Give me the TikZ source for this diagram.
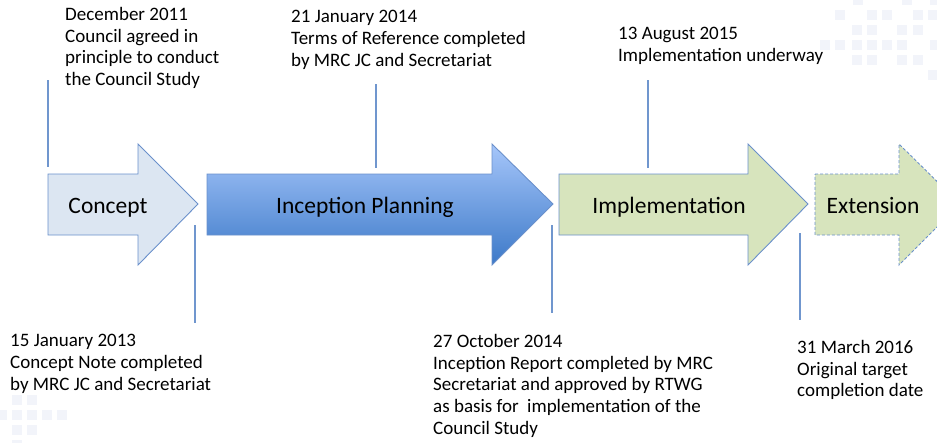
\documentclass[tikz,border=0pt]{standalone}
\usepackage{fontspec}
\setmainfont{Carlito}
\definecolor{conceptfill}{HTML}{DCE6F2}
\definecolor{edgeblue}{HTML}{6A90CB}
\definecolor{linkblue}{HTML}{7096CE}
\definecolor{inctop}{HTML}{A6C6FA}
\definecolor{incbot}{HTML}{3C79C8}
\definecolor{greenfill}{HTML}{D7E4BD}
\definecolor{bgsq}{HTML}{F2F4FA}
\tikzset{
  stagearrow/.style={draw=edgeblue, line width=0.9pt, line join=miter},
  stagelabel/.style={font=\fontsize{23.5}{27}\selectfont, inner sep=0pt, anchor=base},
  datenote/.style={font=\fontsize{19}{21.8}\selectfont, align=left, inner sep=0pt, anchor=north west},
  tick/.style={draw=linkblue, line width=1.1pt},
  bgsquare/.style={fill=bgsq, draw=none}
}
\begin{document}
\begin{tikzpicture}[x=1pt,y=-1pt]
\useasboundingbox (0,0) rectangle (937,442);
\clip (0,0) rectangle (937,442);
% faint background squares
\foreach \px/\py in {853/-5,902/-5,930/-5,835/10,867/10,882/10,913/10,928/10,852/25,867/25,897/25,913/25,820/40,835/40,852/40,867/40,882/40,897/40,930/40,852/55,867/55,897/55,913/55,928/70,
  12/395,27/395,-3/410,12/410,27/410,42/410,57/410,12/425,27/425,12/440}
  \fill[bgsquare] (\px,\py) rectangle ++(10,10);
% Concept arrow
\path[stagearrow, fill=conceptfill] (48,174) -- (138,174) -- (138,144) -- (198,204) -- (138,265) -- (138,235) -- (48,235) -- cycle;
\node[stagelabel] (concept) at (108,213) {Concept};
% Inception Planning arrow
\shade[top color=inctop, bottom color=incbot] (207,174) -- (492,174) -- (492,144) -- (553,204) -- (492,265) -- (492,235) -- (207,235) -- cycle;
\draw[stagearrow] (207,174) -- (492,174) -- (492,144) -- (553,204) -- (492,265) -- (492,235) -- (207,235) -- cycle;
\node[stagelabel] (inception) at (365,213) {Inception Planning};
% Implementation arrow
\path[stagearrow, fill=greenfill] (559,174) -- (748,174) -- (748,144) -- (808,204) -- (748,265) -- (748,235) -- (559,235) -- cycle;
\node[stagelabel] (implementation) at (669,213) {Implementation};
% Extension arrow (dashed)
\path[stagearrow, fill=greenfill, dashed, dash pattern=on 3pt off 2pt] (815,174) -- (899,174) -- (899,144) -- (960,204) -- (899,265) -- (899,235) -- (815,235) -- cycle;
\node[stagelabel] (extension) at (873,213) {Extension};
% date notes
\node[datenote] (n1) at (65,7) {December 2011\\Council agreed in\\principle to conduct\\the Council Study};
\node[datenote] (n2) at (291,10) {21 January 2014\\Terms of Reference completed\\by MRC JC and Secretariat};
\node[datenote] (n3) at (618,27) {13 August 2015\\Implementation underway};
\node[datenote] (n4) at (10,334) {15 January 2013\\Concept Note completed\\by MRC JC and Secretariat};
\node[datenote] (n5) at (433,334) {27 October 2014\\Inception Report completed by MRC\\Secretariat and approved by RTWG\\as basis for\ \ implementation of the\\Council Study};
\node[datenote] (n6) at (797,340) {31 March 2016\\Original target\\completion date};
% tick lines
\coordinate (t1a) at (48,80);  \coordinate (t1b) at (48,167);
\coordinate (t2a) at (195,225); \coordinate (t2b) at (195,323);
\coordinate (t3a) at (376,84);  \coordinate (t3b) at (376,168);
\coordinate (t4a) at (552,225); \coordinate (t4b) at (552,313);
\coordinate (t5a) at (648,80);  \coordinate (t5b) at (648,168);
\coordinate (t6a) at (800,233); \coordinate (t6b) at (800,320);
\draw[tick] (t1a) -- (t1b);
\draw[tick] (t2a) -- (t2b);
\draw[tick] (t3a) -- (t3b);
\draw[tick] (t4a) -- (t4b);
\draw[tick] (t5a) -- (t5b);
\draw[tick] (t6a) -- (t6b);
\end{tikzpicture}
\end{document}
